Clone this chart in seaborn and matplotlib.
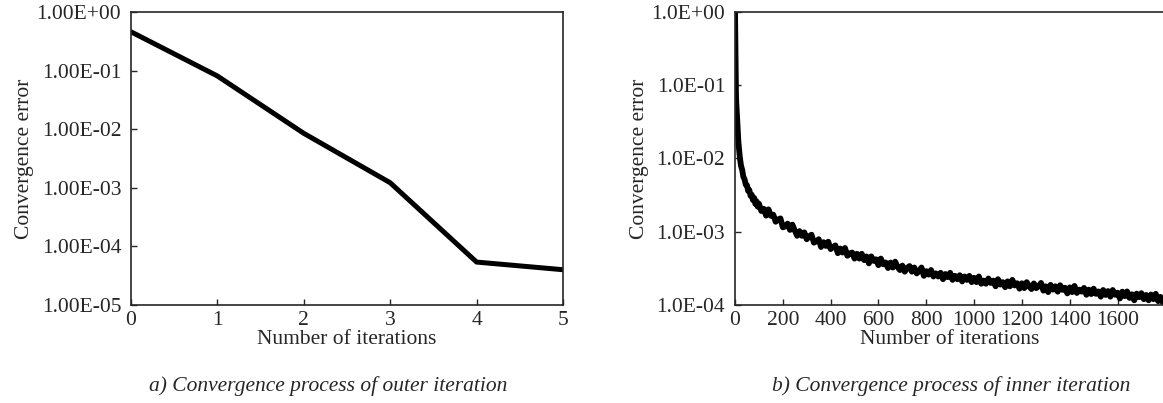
import matplotlib
matplotlib.use("Agg")
import matplotlib.pyplot as plt
import matplotlib.ticker as mticker
import seaborn as sns

sns.set_style("ticks")
plt.rcParams['font.family'] = ['Liberation Serif', 'DejaVu Serif']

# outer iteration convergence (panel a)
outer_iter = [0, 1, 2, 3, 4, 5]
outer_err = [0.46, 0.081, 0.0085, 0.00122, 5.4e-5, 4.0e-5]

# inner iteration convergence (panel b)
inner_iter = ([0, 1, 2, 3, 4, 5, 7, 10, 14, 18, 20, 25, 30, 35, 40, 45, 50, 55, 60, 65,
               70, 75, 80, 85, 90, 95] + list(range(100, 1810, 10)))
inner_err = [1.0, 0.5, 0.2, 0.1, 0.075, 0.06, 0.045, 0.028, 0.017, 0.012,
             0.0105, 0.0080, 0.0070, 0.0056, 0.0052, 0.0044, 0.0043, 0.0036, 0.0037, 0.0031,
             0.0032, 0.0027, 0.0029, 0.0024, 0.0026, 0.0022]
inner_err += [v * 1e-4 for v in [
    24.2, 19.2, 20.6, 16.6, 20.2, 16.5, 17.1, 13.7, 14.7, 15.2,
    11.5, 11.8, 12.9, 10.6, 12.5, 10.4, 8.8, 10.2, 8.8, 9.8,
    7.9, 8.7, 9.1, 7.1, 7.4, 7.9, 6.2, 7.2, 6.4, 7.3,
    5.8, 6.2, 6.5, 5.1, 5.9, 5.2, 6.0, 4.7, 5.05, 5.2,
    4.3, 5.0, 4.3, 5.0, 4.1, 4.6, 3.7, 4.6, 4.0, 4.2,
    3.5, 4.3, 3.6, 3.8, 3.2, 3.8, 3.25, 3.9, 3.3, 3.0,
    3.45, 2.85, 3.2, 3.4, 2.85, 3.25, 2.7, 2.9, 3.25, 2.5,
    2.9, 2.6, 3.0, 2.45, 2.7, 2.45, 2.75, 2.25, 2.65, 2.4,
    2.75, 2.2, 2.5, 2.25, 2.55, 2.1, 2.45, 2.2, 2.5, 2.05,
    2.35, 2.05, 2.45, 1.95, 2.15, 1.95, 2.3, 2.0, 2.15, 1.8,
    2.25, 1.9, 2.05, 1.75, 2.1, 1.8, 2.2, 1.85, 1.98, 1.67,
    1.98, 1.7, 2.05, 1.8, 1.65, 1.97, 1.7, 1.8, 2.0, 1.57,
    1.8, 1.5, 1.88, 1.62, 1.8, 1.52, 1.86, 1.61, 1.72, 1.44,
    1.74, 1.5, 1.82, 1.46, 1.62, 1.52, 1.71, 1.38, 1.62, 1.41,
    1.67, 1.42, 1.53, 1.3, 1.6, 1.37, 1.55, 1.3, 1.6, 1.38,
    1.47, 1.23, 1.52, 1.32, 1.53, 1.25, 1.4, 1.16, 1.43, 1.28,
    1.45, 1.2, 1.37, 1.16, 1.39, 1.2, 1.42, 1.13, 1.29, 1.08,
    1.29]]

outer_yticks = [1e-5, 1e-4, 1e-3, 1e-2, 1e-1, 1]
inner_yticks = [1e-4, 1e-3, 1e-2, 1e-1, 1]
inner_xticks = [0, 200, 400, 600, 800, 1000, 1200, 1400, 1600]

fs = 15.5
fig = plt.figure(figsize=(11.63, 4.03), dpi=100)
ax1 = fig.add_axes([0.1126, 0.2432, 0.3715, 0.7270])
ax2 = fig.add_axes([0.632, 0.2432, 0.370, 0.7270])

sns.lineplot(x=outer_iter, y=outer_err, ax=ax1, color='black', linewidth=3.6)
sns.lineplot(x=inner_iter, y=inner_err, ax=ax2, color='black', linewidth=4.2,
             estimator=None, sort=False)

for ax in (ax1, ax2):
    ax.set_yscale('log')
    ax.yaxis.set_minor_locator(mticker.NullLocator())
    ax.tick_params(axis='x', direction='in', length=4, width=1, labelsize=fs, pad=4)
    ax.tick_params(axis='y', direction='in', length=4, width=1, labelsize=fs, pad=7)
    ax.set_xlabel('Number of iterations', fontsize=fs, labelpad=0)
    ax.set_ylabel('Convergence error', fontsize=fs, labelpad=2)
    for s in ax.spines.values():
        s.set_linewidth(1.2)

ax1.set_xlim(0, 5)
ax1.set_ylim(1e-5, 1)
ax1.set_xticks(outer_iter)
ax1.yaxis.set_major_locator(mticker.FixedLocator(outer_yticks))
ax1.yaxis.set_major_formatter(mticker.FuncFormatter(lambda v, p: '%.2E' % v))

ax2.set_xlim(0, 1800)
ax2.set_ylim(1e-4, 1)
ax2.set_xticks(inner_xticks)
ax2.yaxis.set_major_locator(mticker.FixedLocator(inner_yticks))
ax2.yaxis.set_major_formatter(mticker.FuncFormatter(lambda v, p: '%.1E' % v))
ax2.spines['right'].set_visible(False)

fig.text(0.282, 0.042, 'a) Convergence process of outer iteration', fontsize=fs,
         style='italic', ha='center', va='center')
fig.text(0.818, 0.042, 'b) Convergence process of inner iteration', fontsize=fs,
         style='italic', ha='center', va='center')

fig.savefig('out.png', dpi=100)
